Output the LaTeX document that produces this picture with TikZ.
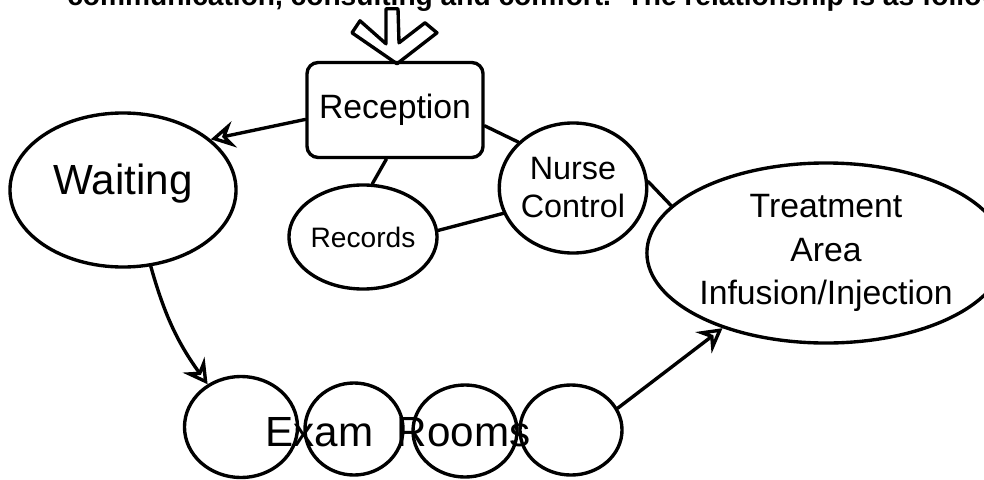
\documentclass[tikz,border=0pt]{standalone}
\usepackage{fontspec}
\setmainfont{Liberation Sans}
\usetikzlibrary{positioning,shapes.geometric,arrows.meta}
\definecolor{colorink}  {RGB}{0,0,0}
\definecolor{colorpaper}{RGB}{255,255,255}

\begin{document}
\begin{tikzpicture}[
    x=0.025cm, y=-0.025cm,
    base/.style={text=colorink,draw=colorink,line width=2.4pt,align=center,inner sep=0pt},
    txt/.style={text=colorink,align=center,inner sep=0pt},
    room/.style={base,ellipse},
    desk/.style={base,rectangle,rounded corners=8pt},
    link/.style={line width=2.4pt,draw=colorink,line cap=round},
    flow/.style={link,-{Stealth[open,length=17pt,width=19pt,inset=6pt]}},
]
    \useasboundingbox[fill=colorpaper] (0,0) rectangle (984,479);
    \clip (0,0) rectangle (984,479);

    % Text line cut at the top
    \node[txt,anchor=base west,font={\fontsize{20}{24}\selectfont\bfseries}] (header) at (67,6)
        {communication, consulting and comfort.\ \ The relationship is as follows:};

    % Front desk
    \node[desk,minimum width=4.4cm,minimum height=2.375cm,font={\fontsize{24}{28}\selectfont}] (reception) at (395,110) {Reception};
    \draw[link,line join=round,shift={(reception.north)}]
        (-9,-52) -- (3,-52) -- (4,-18) -- (30,-38) -- (42,-28) -- (2,3) -- (-43,-28) -- (-35,-40) -- (-9,-17) -- cycle;

    % Rooms
    \node[room,minimum width=5.65cm,minimum height=3.85cm,font={\fontsize{30}{34}\selectfont}] (waiting) at (123,190) {\raisebox{0.5em}{Waiting}};
    \node[room,minimum width=2.75cm,minimum height=2.6cm,font={\fontsize{20}{22}\selectfont}] (records) at (363,237) {Records};
    \node[room,minimum width=3.575cm,minimum height=3.25cm,font={\fontsize{23}{27}\selectfont}] (nurse) at (573,188) {Nurse\\Control};
    \node[room,minimum width=7.55cm,minimum height=4.5cm,font={\fontsize{24}{31}\selectfont}] (treat) at (826,253) {Treatment\\Area\\Infusion/Injection};

    % Exam rooms
    \node[room,minimum width=2.825cm,minimum height=2.525cm] (exam1) at (241,427) {};
    \node[room,minimum width=2.45cm,minimum height=2.3cm] (exam2) at (354,429) {};
    \node[room,minimum width=2.6cm,minimum height=2.3cm] (exam3) at (465,431) {};
    \node[room,minimum width=2.55cm,minimum height=2.25cm] (exam4) at (571,430) {};
    \node[txt,font={\fontsize{30}{34}\selectfont}] (examtext) at (398,432) {Exam\ \ Rooms};

    % Links
    \draw[link](reception.-100) -- (records.80);
    \draw[link](reception.-10) -- (nurse.140);
    \draw[link](records.5) -- (nurse.200);
    \draw[link](nurse.5) -- (treat.163);

    % Patient flow
    \draw[flow](reception.186) -- (waiting.30);
    \draw[flow](waiting.-70) to [bend right=10] (exam1.128);
    \draw[flow](exam4.25) -- (treat.216);

\end{tikzpicture}
\end{document}
